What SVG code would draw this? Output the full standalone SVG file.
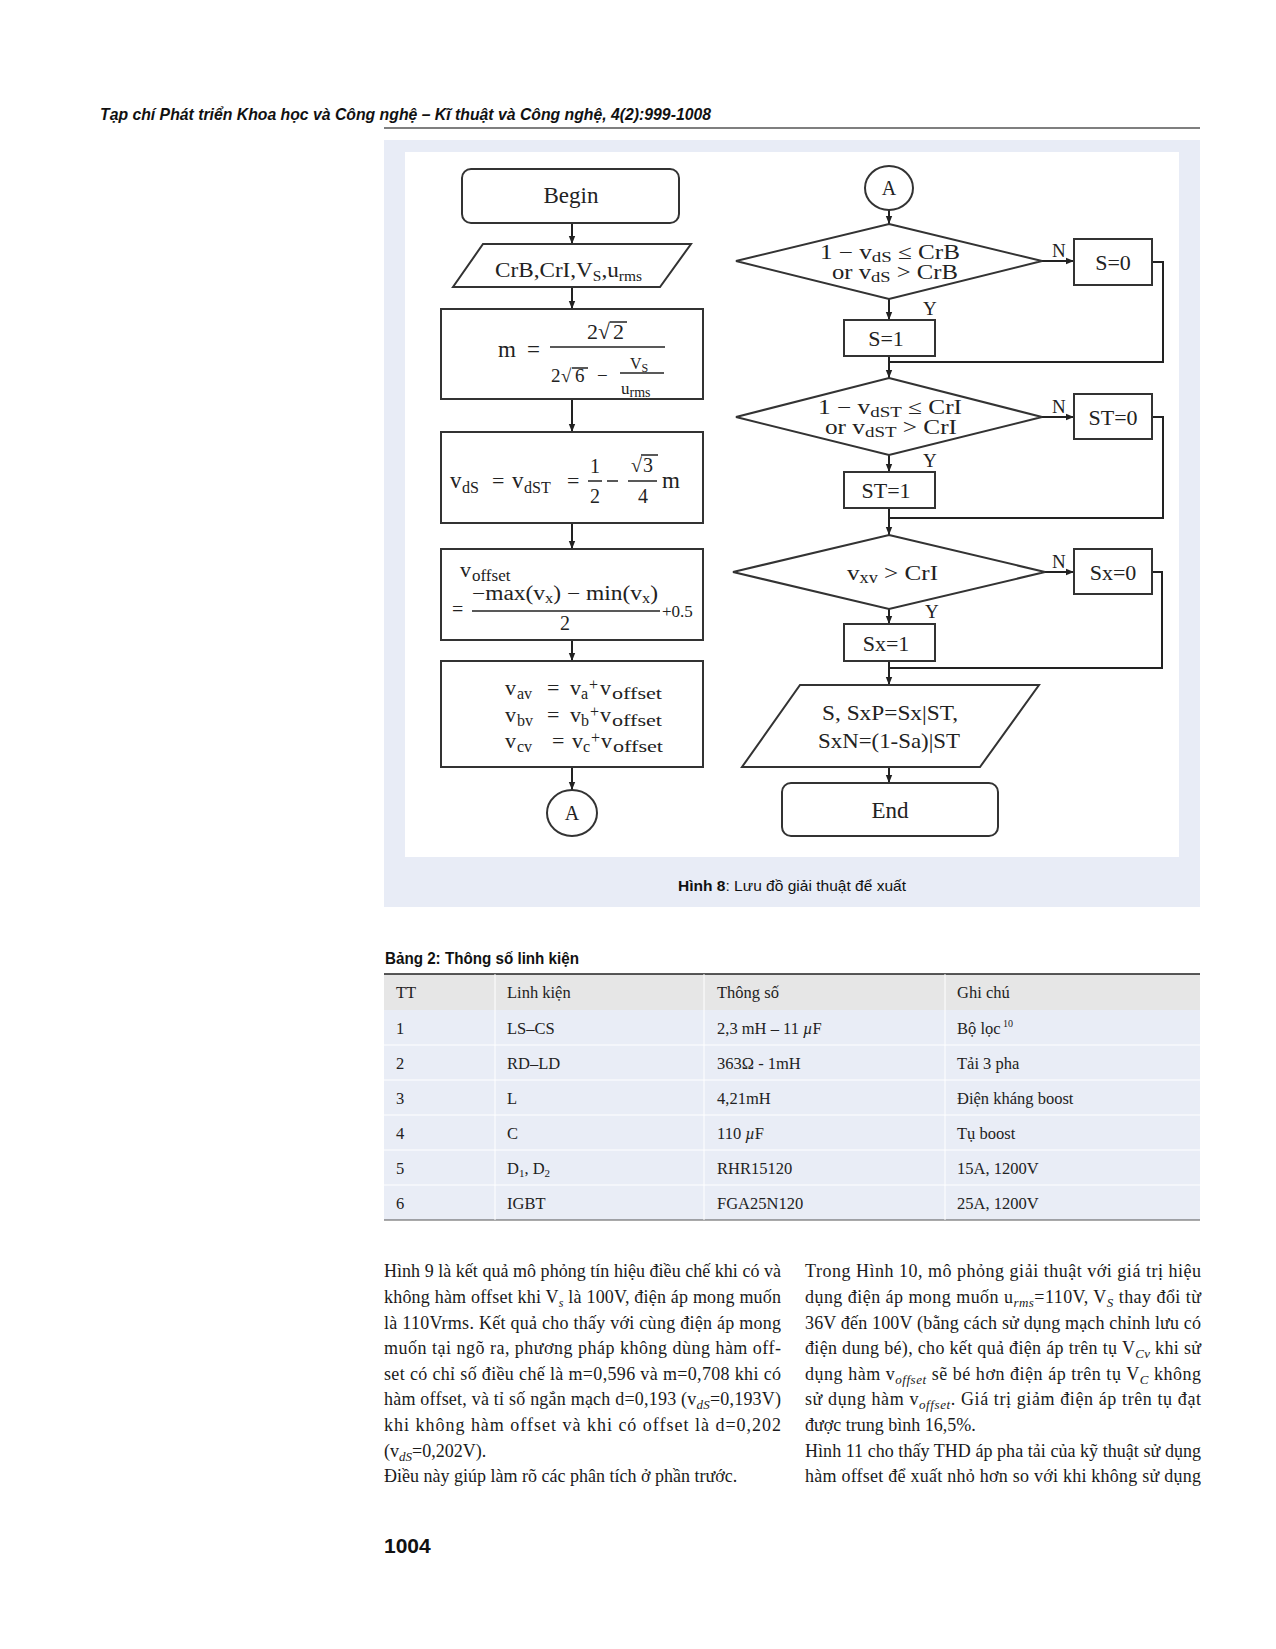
<svg xmlns="http://www.w3.org/2000/svg" width="1276" height="1649" viewBox="0 0 1276 1649">
<defs>
<marker id="ah" viewBox="0 0 10 10" refX="10" refY="5" markerUnits="userSpaceOnUse" markerWidth="8" markerHeight="8" orient="auto"><path d="M0,1 L10,5 L0,9 z" fill="#222"/></marker>
</defs>
<style>
.f{font-family:'Liberation Serif',serif;fill:#222}
.nd{fill:#fff;stroke:#333;stroke-width:2}
.ln{fill:none;stroke:#222;stroke-width:2}
.bar{stroke:#222;stroke-width:1.5}
.body{font-family:'Liberation Serif',serif;font-size:18px;fill:#1a1a1a}
.tb{font-family:'Liberation Serif',serif;font-size:16.5px;fill:#222}
.sans{font-family:'Liberation Sans','Open Sans',sans-serif;fill:#111}
</style>
<rect width="1276" height="1649" fill="#fff"/>
<text class="sans" x="100" y="120" font-size="17" font-weight="bold" font-style="italic" textLength="611" lengthAdjust="spacingAndGlyphs">Tạp chí Phát triển Khoa học và Công nghệ – Kĩ thuật và Công nghệ, 4(2):999-1008</text>
<line x1="384" y1="128" x2="1200" y2="128" stroke="#555" stroke-width="1.5"/>
<rect x="384" y="140" width="816" height="767" fill="#e8ecf6"/>
<rect x="405" y="152" width="774" height="705" fill="#fff"/>
<g id="connectors">
<path class="ln" d="M572,223 V244" marker-end="url(#ah)"/>
<path class="ln" d="M572,287 V309" marker-end="url(#ah)"/>
<path class="ln" d="M572,399 V432" marker-end="url(#ah)"/>
<path class="ln" d="M572,523 V549" marker-end="url(#ah)"/>
<path class="ln" d="M572,640 V661" marker-end="url(#ah)"/>
<path class="ln" d="M572,767 V790" marker-end="url(#ah)"/>
<path class="ln" d="M889,210 V224" marker-end="url(#ah)"/>
<path class="ln" d="M1042,261 H1074" marker-end="url(#ah)"/>
<path class="ln" d="M889,299 V320" marker-end="url(#ah)"/>
<path class="ln" d="M1152,262 H1163 V362 H889"/>
<path class="ln" d="M889,356 V378" marker-end="url(#ah)"/>
<path class="ln" d="M1042,417 H1074" marker-end="url(#ah)"/>
<path class="ln" d="M889,455 V472" marker-end="url(#ah)"/>
<path class="ln" d="M1152,417 H1163 V518 H889"/>
<path class="ln" d="M889,508 V535" marker-end="url(#ah)"/>
<path class="ln" d="M1045,572 H1074" marker-end="url(#ah)"/>
<path class="ln" d="M889,609 V624" marker-end="url(#ah)"/>
<path class="ln" d="M1152,572 H1162 V668 H889"/>
<path class="ln" d="M889,661 V685" marker-end="url(#ah)"/>
<path class="ln" d="M889,767 V783" marker-end="url(#ah)"/>
<text class="f" font-size="19" x="1052" y="257">N</text>
<text class="f" font-size="19" x="923" y="315">Y</text>
<text class="f" font-size="19" x="1052" y="413">N</text>
<text class="f" font-size="19" x="923" y="467">Y</text>
<text class="f" font-size="19" x="1052" y="568">N</text>
<text class="f" font-size="19" x="925" y="618">Y</text>
</g>
<g id="begin">
<rect class="nd" x="462" y="169" width="217" height="54" rx="9"/>
<text class="f" font-size="23" x="571" y="203" text-anchor="middle">Begin</text>
</g>
<g id="input">
<polygon class="nd" points="483,244 691,244 660,287 453,287"/>
<text class="f" font-size="21" x="495" y="277" textLength="147" lengthAdjust="spacingAndGlyphs">CrB,CrI,V<tspan font-size="14" dy="4">S</tspan><tspan dy="-4">,u</tspan><tspan font-size="14" dy="4">rms</tspan></text>
</g>
<g id="calc-m">
<rect class="nd" x="441" y="309" width="262" height="90"/>
<text class="f" font-size="23" x="498" y="357">m</text>
<text class="f" font-size="23" x="527" y="357">=</text>
<line class="bar" x1="550" y1="347" x2="665" y2="347"/>
<text class="f" font-size="22" x="587" y="339">2</text>
<text class="f" font-size="22" x="598" y="339">√</text>
<text class="f" font-size="22" x="613" y="339">2</text>
<line class="bar" x1="610" y1="322" x2="627" y2="322"/>
<text class="f" font-size="19" x="551" y="382">2</text>
<text class="f" font-size="19" x="561" y="382">√</text>
<text class="f" font-size="19" x="575" y="382">6</text>
<line class="bar" x1="572" y1="368" x2="588" y2="368"/>
<text class="f" font-size="19" x="597" y="382">−</text>
<line class="bar" x1="620" y1="373" x2="664" y2="373"/>
<text class="f" font-size="16" x="630" y="369">V<tspan font-size="12" dy="3">S</tspan></text>
<text class="f" font-size="17" x="621" y="394">u<tspan font-size="14" dy="3">rms</tspan></text>
</g>
<g id="calc-vds">
<rect class="nd" x="441" y="432" width="262" height="91"/>
<text class="f" font-size="23" x="450" y="488">v</text>
<text class="f" font-size="16" x="462" y="493">dS</text>
<text class="f" font-size="22" x="492" y="488">=</text>
<text class="f" font-size="23" x="512" y="488">v</text>
<text class="f" font-size="16" x="524" y="493">dST</text>
<text class="f" font-size="22" x="567" y="488">=</text>
<text class="f" font-size="20" x="595" y="473" text-anchor="middle">1</text>
<line class="bar" x1="588" y1="481" x2="602" y2="481"/>
<text class="f" font-size="20" x="595" y="503" text-anchor="middle">2</text>
<line class="bar" x1="607" y1="481" x2="618" y2="481"/>
<text class="f" font-size="20" x="631" y="472">√</text>
<text class="f" font-size="20" x="643" y="472">3</text>
<line class="bar" x1="641" y1="455" x2="658" y2="455"/>
<line class="bar" x1="628" y1="481" x2="657" y2="481"/>
<text class="f" font-size="20" x="643" y="503" text-anchor="middle">4</text>
<text class="f" font-size="23" x="662" y="488">m</text>
</g>
<g id="calc-voffset">
<rect class="nd" x="441" y="549" width="262" height="91"/>
<text class="f" font-size="22" x="460" y="577">v</text>
<text class="f" font-size="17" x="472" y="581">offset</text>
<text class="f" font-size="20" x="452" y="616">=</text>
<text class="f" font-size="20" x="472" y="600" textLength="186" lengthAdjust="spacingAndGlyphs">−max(v<tspan font-size="14" dy="3">x</tspan><tspan dy="-3">) − min(v</tspan><tspan font-size="14" dy="3">x</tspan><tspan dy="-3">)</tspan></text>
<line class="bar" x1="472" y1="611" x2="660" y2="611"/>
<text class="f" font-size="20" x="565" y="630" text-anchor="middle">2</text>
<text class="f" font-size="17" x="662" y="617">+0.5</text>
</g>
<g id="calc-vav">
<rect class="nd" x="441" y="661" width="262" height="106"/>
<text class="f" font-size="22" x="505" y="695">v</text>
<text class="f" font-size="16" x="517" y="699">av</text>
<text class="f" font-size="22" x="547" y="695">=</text>
<text class="f" font-size="22" x="570" y="695">v</text>
<text class="f" font-size="16" x="581" y="699">a</text>
<text class="f" font-size="16" x="589" y="690">+</text>
<text class="f" font-size="22" x="600" y="695">v</text>
<text class="f" font-size="16" x="612" y="699" textLength="50" lengthAdjust="spacingAndGlyphs">offset</text>
<text class="f" font-size="22" x="505" y="722">v</text>
<text class="f" font-size="16" x="517" y="726">bv</text>
<text class="f" font-size="22" x="547" y="722">=</text>
<text class="f" font-size="22" x="570" y="722">v</text>
<text class="f" font-size="16" x="581" y="726">b</text>
<text class="f" font-size="16" x="590" y="717">+</text>
<text class="f" font-size="22" x="600" y="722">v</text>
<text class="f" font-size="16" x="612" y="726" textLength="50" lengthAdjust="spacingAndGlyphs">offset</text>
<text class="f" font-size="22" x="505" y="748">v</text>
<text class="f" font-size="16" x="517" y="752">cv</text>
<text class="f" font-size="22" x="552" y="748">=</text>
<text class="f" font-size="22" x="572" y="748">v</text>
<text class="f" font-size="16" x="583" y="752">c</text>
<text class="f" font-size="16" x="591" y="743">+</text>
<text class="f" font-size="22" x="601" y="748">v</text>
<text class="f" font-size="16" x="613" y="752" textLength="50" lengthAdjust="spacingAndGlyphs">offset</text>
</g>
<g id="conn-a-out">
<ellipse class="nd" cx="572" cy="813" rx="25" ry="23"/>
<text class="f" font-size="20" x="572" y="820" text-anchor="middle">A</text>
</g>
<g id="conn-a-in">
<ellipse class="nd" cx="889" cy="188" rx="24" ry="22"/>
<text class="f" font-size="20" x="889" y="195" text-anchor="middle">A</text>
</g>
<g id="dec-s">
<polygon class="nd" points="889,224 1042,261 889,299 736,261"/>
<text class="f" font-size="20" x="820" y="259" textLength="140" lengthAdjust="spacingAndGlyphs">1 − v<tspan font-size="15" dy="3">dS</tspan><tspan dy="-3"> ≤ CrB</tspan></text>
<text class="f" font-size="20" x="832" y="279" textLength="126" lengthAdjust="spacingAndGlyphs">or v<tspan font-size="15" dy="3">dS</tspan><tspan dy="-3"> &gt; CrB</tspan></text>
</g>
<g id="s0">
<rect class="nd" x="1074" y="239" width="78" height="46"/>
<text class="f" font-size="22" x="1113" y="270" text-anchor="middle">S=0</text>
</g>
<g id="s1">
<rect class="nd" x="844" y="320" width="91" height="36"/>
<text class="f" font-size="22" x="886" y="346" text-anchor="middle">S=1</text>
</g>
<g id="dec-st">
<polygon class="nd" points="889,378 1042,417 889,455 736,417"/>
<text class="f" font-size="20" x="818" y="414" textLength="144" lengthAdjust="spacingAndGlyphs">1 − v<tspan font-size="15" dy="3">dST</tspan><tspan dy="-3"> ≤ CrI</tspan></text>
<text class="f" font-size="20" x="825" y="434" textLength="132" lengthAdjust="spacingAndGlyphs">or v<tspan font-size="15" dy="3">dST</tspan><tspan dy="-3"> &gt; CrI</tspan></text>
</g>
<g id="st0">
<rect class="nd" x="1074" y="394" width="78" height="45"/>
<text class="f" font-size="22" x="1113" y="425" text-anchor="middle">ST=0</text>
</g>
<g id="st1">
<rect class="nd" x="844" y="472" width="91" height="36"/>
<text class="f" font-size="22" x="886" y="498" text-anchor="middle">ST=1</text>
</g>
<g id="dec-sx">
<polygon class="nd" points="889,535 1045,572 889,609 733,572"/>
<text class="f" font-size="22" x="847" y="580" textLength="91" lengthAdjust="spacingAndGlyphs">v<tspan font-size="16" dy="3">xv</tspan><tspan dy="-3"> &gt; CrI</tspan></text>
</g>
<g id="sx0">
<rect class="nd" x="1074" y="549" width="78" height="45"/>
<text class="f" font-size="22" x="1113" y="580" text-anchor="middle">Sx=0</text>
</g>
<g id="sx1">
<rect class="nd" x="844" y="624" width="91" height="37"/>
<text class="f" font-size="22" x="886" y="651" text-anchor="middle">Sx=1</text>
</g>
<g id="output">
<polygon class="nd" points="800,685 1039,685 980,767 742,767"/>
<text class="f" font-size="21" x="822" y="720" textLength="136" lengthAdjust="spacingAndGlyphs">S, SxP=Sx|ST,</text>
<text class="f" font-size="21" x="818" y="748" textLength="142" lengthAdjust="spacingAndGlyphs">SxN=(1-Sa)|ST</text>
</g>
<g id="end">
<rect class="nd" x="782" y="783" width="216" height="53" rx="9"/>
<text class="f" font-size="23" x="890" y="818" text-anchor="middle">End</text>
</g>
<text class="sans" x="678" y="891" font-size="15" textLength="228" lengthAdjust="spacingAndGlyphs"><tspan font-weight="bold">Hình 8</tspan>: Lưu đồ giải thuật để xuất</text>
<text class="sans" x="385" y="964" font-size="16" font-weight="bold" textLength="194" lengthAdjust="spacingAndGlyphs">Bảng 2: Thông số linh kiện</text>
<g id="table">
<rect x="384" y="974" width="816" height="36" fill="#e6e6e6"/>
<rect x="384" y="1010" width="816" height="210" fill="#e9edf6"/>
<line x1="384" y1="974" x2="1200" y2="974" stroke="#222" stroke-width="1.5"/>
<line x1="384" y1="1220" x2="1200" y2="1220" stroke="#555" stroke-width="1.2"/>
<g stroke="#fff" stroke-width="1">
<line x1="495" y1="974" x2="495" y2="1220"/><line x1="704" y1="974" x2="704" y2="1220"/><line x1="945" y1="974" x2="945" y2="1220"/>
<line x1="384" y1="1045" x2="1200" y2="1045"/><line x1="384" y1="1080" x2="1200" y2="1080"/><line x1="384" y1="1115" x2="1200" y2="1115"/><line x1="384" y1="1150" x2="1200" y2="1150"/><line x1="384" y1="1185" x2="1200" y2="1185"/>
</g>
<text class="tb" x="396" y="998">TT</text><text class="tb" x="507" y="998">Linh kiện</text><text class="tb" x="717" y="998">Thông số</text><text class="tb" x="957" y="998">Ghi chú</text>
<text class="tb" x="396" y="1034">1</text><text class="tb" x="507" y="1034">LS–CS</text><text class="tb" x="717" y="1034">2,3 mH – 11 <tspan font-style="italic">µ</tspan>F</text><text class="tb" x="957" y="1034">Bộ lọc<tspan font-size="10" dy="-7"> 10</tspan></text>
<text class="tb" x="396" y="1069">2</text><text class="tb" x="507" y="1069">RD–LD</text><text class="tb" x="717" y="1069">363Ω - 1mH</text><text class="tb" x="957" y="1069">Tải 3 pha</text>
<text class="tb" x="396" y="1104">3</text><text class="tb" x="507" y="1104">L</text><text class="tb" x="717" y="1104">4,21mH</text><text class="tb" x="957" y="1104">Điện kháng boost</text>
<text class="tb" x="396" y="1139">4</text><text class="tb" x="507" y="1139">C</text><text class="tb" x="717" y="1139">110 <tspan font-style="italic">µ</tspan>F</text><text class="tb" x="957" y="1139">Tụ boost</text>
<text class="tb" x="396" y="1174">5</text><text class="tb" x="507" y="1174">D<tspan font-size="11" dy="3">1</tspan><tspan dy="-3">, D</tspan><tspan font-size="11" dy="3">2</tspan></text><text class="tb" x="717" y="1174">RHR15120</text><text class="tb" x="957" y="1174">15A, 1200V</text>
<text class="tb" x="396" y="1209">6</text><text class="tb" x="507" y="1209">IGBT</text><text class="tb" x="717" y="1209">FGA25N120</text><text class="tb" x="957" y="1209">25A, 1200V</text>
</g>
<g id="body-left">
<text class="body" x="384" y="1277" textLength="397" lengthAdjust="spacing">Hình 9 là kết quả mô phỏng tín hiệu điều chế khi có và</text>
<text class="body" x="384" y="1303" textLength="397" lengthAdjust="spacing">không hàm offset khi V<tspan font-size="12" font-style="italic" dy="4">s</tspan><tspan dy="-4"> là 100V, điện áp mong muốn</tspan></text>
<text class="body" x="384" y="1329" textLength="397" lengthAdjust="spacing">là 110Vrms. Kết quả cho thấy với cùng điện áp mong</text>
<text class="body" x="384" y="1354" textLength="397" lengthAdjust="spacing">muốn tại ngõ ra, phương pháp không dùng hàm off-</text>
<text class="body" x="384" y="1380" textLength="397" lengthAdjust="spacing">set có chỉ số điều chế là m=0,596 và m=0,708 khi có</text>
<text class="body" x="384" y="1405" textLength="397" lengthAdjust="spacing">hàm offset, và tỉ số ngắn mạch d=0,193 (v<tspan font-size="13" font-style="italic" dy="4">dS</tspan><tspan dy="-4">=0,193V)</tspan></text>
<text class="body" x="384" y="1431" textLength="397" lengthAdjust="spacing">khi không hàm offset và khi có offset là d=0,202</text>
<text class="body" x="384" y="1457">(v<tspan font-size="13" font-style="italic" dy="4">dS</tspan><tspan dy="-4">=0,202V).</tspan></text>
<text class="body" x="384" y="1482">Điều này giúp làm rõ các phân tích ở phần trước.</text>
</g>
<g id="body-right">
<text class="body" x="805" y="1277" textLength="396" lengthAdjust="spacing">Trong Hình 10, mô phỏng giải thuật với giá trị hiệu</text>
<text class="body" x="805" y="1303" textLength="396" lengthAdjust="spacing">dụng điện áp mong muốn u<tspan font-size="13" font-style="italic" dy="4">rms</tspan><tspan dy="-4">=110V, V</tspan><tspan font-size="13" font-style="italic" dy="4">S</tspan><tspan dy="-4"> thay đổi từ</tspan></text>
<text class="body" x="805" y="1329" textLength="396" lengthAdjust="spacing">36V đến 100V (bằng cách sử dụng mạch chỉnh lưu có</text>
<text class="body" x="805" y="1354" textLength="396" lengthAdjust="spacing">điện dung bé), cho kết quả điện áp trên tụ V<tspan font-size="13" font-style="italic" dy="4">Cv</tspan><tspan dy="-4"> khi sử</tspan></text>
<text class="body" x="805" y="1380" textLength="396" lengthAdjust="spacing">dụng hàm v<tspan font-size="13" font-style="italic" dy="4">offset</tspan><tspan dy="-4"> sẽ bé hơn điện áp trên tụ V</tspan><tspan font-size="13" font-style="italic" dy="4">C</tspan><tspan dy="-4"> không</tspan></text>
<text class="body" x="805" y="1405" textLength="396" lengthAdjust="spacing">sử dụng hàm v<tspan font-size="13" font-style="italic" dy="4">offset</tspan><tspan dy="-4">. Giá trị giảm điện áp trên tụ đạt</tspan></text>
<text class="body" x="805" y="1431">được trung bình 16,5%.</text>
<text class="body" x="805" y="1457" textLength="396" lengthAdjust="spacing">Hình 11 cho thấy THD áp pha tải của kỹ thuật sử dụng</text>
<text class="body" x="805" y="1482" textLength="396" lengthAdjust="spacing">hàm offset để xuất nhỏ hơn so với khi không sử dụng</text>
</g>
<text class="sans" x="384" y="1553" font-size="21" font-weight="bold">1004</text>
</svg>
